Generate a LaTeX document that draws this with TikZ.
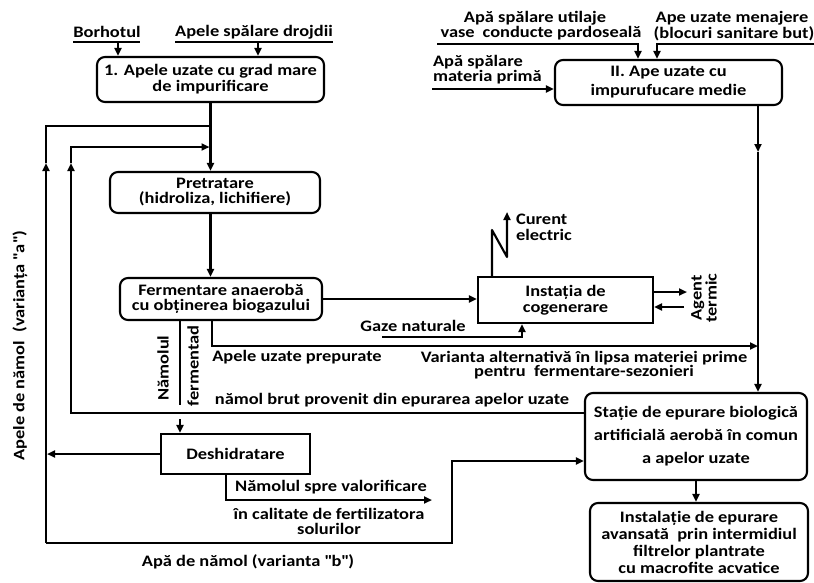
\documentclass[tikz,border=0pt]{standalone}
\usepackage{fontspec}
\setmainfont{Carlito}[FakeStretch=1.15]
\usetikzlibrary{arrows.meta}
\newcommand\dfont[1]{\fontsize{16}{#1}\selectfont\bfseries}
\newcommand\qq{\textquotedbl}
\begin{document}
\begin{tikzpicture}[x=1pt,y=-1pt, line width=2.1pt,
  arr/.style={-{Triangle[length=8pt,width=7pt]}},
  txt/.style={inner sep=0pt, font=\dfont{16}},
  rbox/.style={draw, rounded corners=8pt, align=center, inner sep=0pt},
  sbox/.style={draw, align=center, inner sep=0pt}]
\useasboundingbox (0,0) rectangle (814,582);
\fill[white] (0,0) rectangle (814,582);

% boxes
\node[rbox, minimum width=227pt, minimum height=45pt, font=\dfont{16}] (b1) at (210.5,79.5) {1. Apele uzate cu grad mare\\de impurificare};
\node[rbox, minimum width=210pt, minimum height=41pt, font=\dfont{15}] (pre) at (215,192.5) {Pretratare\\(hidroliza, lichifiere)};
\node[rbox, minimum width=202pt, minimum height=42pt, font=\dfont{15.5}] (ferm) at (221,299) {Fermentare anaerobă\\cu obținerea biogazului};
\node[sbox, minimum width=175pt, minimum height=46pt, font=\dfont{15.5}] (cog) at (565.5,300) {Instația de\\cogenerare};
\node[sbox, minimum width=149pt, minimum height=40pt, font=\dfont{15}] (des) at (235.5,454) {Deshidratare};
\node[rbox, minimum width=227pt, minimum height=45pt, font=\dfont{19}] (bII) at (668.5,82.5) {II. Ape uzate cu\\impurufucare medie};
\node[rbox, minimum width=222pt, minimum height=87pt, font=\dfont{23}] (st) at (696,436.5) {Stație de epurare biologică\\artificială aerobă în comun\\a apelor uzate};
\node[rbox, minimum width=218pt, minimum height=78pt, font=\dfont{17}] (in2) at (699,542) {Instalație de epurare\\avansată\ \ prin intermidiul\\filtrelor plantrate\\cu macrofite acvatice};

% top left inputs
\node[txt] (bor) at (107,32) {Borhotul};
\node[txt] (dro) at (254,32) {Apele spălare drojdii};
\coordinate (bu1) at (73,42); \coordinate (bu2) at (140,42);
\coordinate (du1) at (175,42); \coordinate (du2) at (333,42);
\draw (bu1) -- (bu2);
\draw (du1) -- (du2);
\coordinate (bor1) at (118,42);
\coordinate (dro1) at (258,42);
\draw[arr] (bor1) -- (bor1 |- b1.north);
\draw[arr] (dro1) -- (dro1 |- b1.north);

% main column
\draw[arr] (b1.south) -- (b1.south |- pre.north);
\draw[arr] (b1.south |- pre.south) -- (b1.south |- ferm.north);

% left loop (varianta a)
\coordinate (la) at (46,543); \coordinate (lm) at (46,163); \coordinate (lt) at (46,126);
\draw[arr] (la) -- (lm);
\draw (lm) -- (lt) -- (lt -| b1.south);
\node[txt, rotate=90] (apa) at (20,346) {Apele de nămol\ \ (varianța \qq a\qq)};

% namol brut loop
\coordinate (nb1) at (71,413); \coordinate (nb2) at (71,163); \coordinate (nb3) at (71,147);
\draw[arr] (st.west |- nb1) -- (nb1) -- (nb2);
\draw[arr, shorten >=1pt] (nb2) -- (nb3) -- (b1.south |- nb3);
\node[txt] (nbt) at (392,400) {nămol brut provenit din epurarea apelor uzate};

% fermentare -> cogenerare
\draw[arr] (ferm.east) -- (ferm.east -| cog.west);

% curent electric
\coordinate (ce1) at (492,230); \coordinate (ce2) at (507,257); \coordinate (ce3) at (507,212);
\draw[arr, line join=round] (cog.north -| ce1) -- (ce1) -- (ce2) -- (ce3);
\node[txt, align=left, anchor=west, font=\dfont{16}] (cur) at (515,227) {Curent\\electric};

% agent termic
\coordinate (ag1) at (687,292); \coordinate (ag2) at (684,307);
\draw[arr] (cog.east |- ag1) -- (ag1);
\draw[arr] (ag2) -- (ag2 -| cog.east);
\node[txt, rotate=90, align=center, font=\dfont{15}] (agt) at (704,298) {Agent\\termic};

% gaze naturale
\node[txt] (gaz) at (413,326) {Gaze naturale};
\coordinate (gz1) at (382,337); \coordinate (gz2) at (522,337);
\draw[arr] (gz1) -- (gz2) -- (gz2 |- cog.south);

% apele uzate prepurate
\coordinate (ap1) at (212,346); \coordinate (ap2) at (758,346);
\draw[arr] (ap1 |- ferm.south) -- (ap1) -- (ap2);
\node[txt] (apt) at (297,357) {Apele uzate prepurate};
\node[txt, align=center, font=\dfont{13}] (var) at (584,365) {Varianta alternativă în lipsa materiei prime\\pentru\ \ fermentare-sezonieri};

% namolul fermentad
\coordinate (nf1) at (180,405); \coordinate (nf2) at (180,419);
\draw (nf1 |- ferm.south) -- (nf1);
\draw[arr] (nf2) -- (nf2 |- des.north);
\node[txt, rotate=90] (nam) at (163,368) {Nămolul};
\node[txt, rotate=90] (fer) at (193,366) {fermentad};

% deshidratare outputs
\draw[arr, shorten >=1pt] (des.west) -- (des.west -| la);
\coordinate (dv1) at (226,500); \coordinate (dv2) at (432,500);
\draw[arr] (dv1 |- des.south) -- (dv1) -- (dv2);
\node[txt] (nsv) at (331,487) {Nămolul spre valorificare};
\node[txt, align=center, font=\dfont{15}] (fert) at (329,521) {în calitate de fertilizatora\\solurilor};

% bottom loop (varianta b)
\coordinate (bb1) at (452,543); \coordinate (bb2) at (452,461);
\draw[arr] (la) -- (bb1) -- (bb2) -- (bb2 -| st.west);
\node[txt] (apb) at (248,562) {Apă de nămol (varianta \qq b\qq)};

% top right inputs
\node[txt] (ut1) at (535,18) {Apă spălare utilaje};
\node[txt] (ut2) at (541,33.5) {vase\hspace{8pt}conducte pardoseală};
\node[txt] (me1) at (732,18) {Ape uzate menajere};
\node[txt] (me2) at (734,33.5) {(blocuri sanitare but)};
\coordinate (u1) at (437,44); \coordinate (u2) at (638,44);
\draw[arr] (u1) -- (u2) -- (u2 |- bII.north);
\coordinate (m1) at (814,44); \coordinate (m2) at (657,44);
\draw[arr] (m1) -- (m2) -- (m2 |- bII.north);
\node[txt, align=left, anchor=west, font=\dfont{15}] (mp) at (432,70) {Apă spălare\\materia primă};
\coordinate (mp1) at (432,89);
\draw[arr] (mp1) -- (mp1 -| bII.west);

% right column
\coordinate (rv1) at (758,152);
\draw[arr] (rv1 |- bII.south) -- (rv1);
\draw[arr] (rv1) -- (rv1 |- st.north);
\draw[arr] (st.south) -- (st.south |- in2.north);
\end{tikzpicture}
\end{document}
